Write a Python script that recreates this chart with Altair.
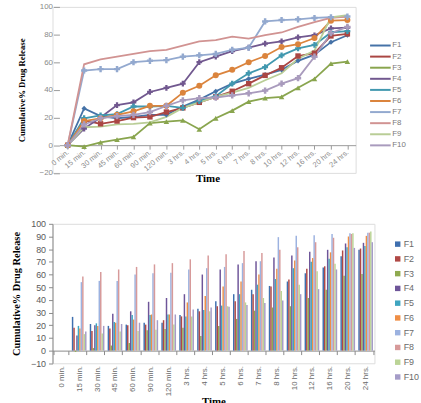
import altair as alt
import pandas as pd

# Sampling times (categorical axis)
times = ["0 min.", "15 min.", "30 min.", "45 min.", "60 min.", "90 min.", "120 min.",
         "3 hrs.", "4 hrs.", "5 hrs.", "6 hrs.", "7 hrs.", "8 hrs.", "10 hrs.",
         "12 hrs.", "16 hrs.", "20 hrs.", "24 hrs."]

series = ["F1", "F2", "F3", "F4", "F5", "F6", "F7", "F8", "F9", "F10"]

# Cumulative % drug release for each formulation
f1 = [0, 26.6, 21, 19.5, 20.5, 22, 22, 28, 33, 39, 44.5, 48, 51, 54.5, 61, 65.5, 74.5, 79.5]
f2 = [0, 18, 15.5, 17.5, 20, 20.5, 24, 27, 31, 35, 39, 44.5, 50.5, 56, 64.5, 66.5, 79, 80.5]
f3 = [0, -1, 2, 4, 6, 16, 17, 18, 11.5, 19.5, 25, 31.5, 34, 35, 41.5, 48, 59, 60.5]
f4 = [0, 12, 20, 29, 31, 38.5, 41.5, 44.5, 60, 64, 68, 70.5, 73.5, 75, 78, 79.5, 84.5, 85]
f5 = [0, 19.5, 21.5, 22.5, 28, 28, 28.5, 27, 32, 35.5, 44.5, 52, 56.5, 65, 70, 72.5, 81.5, 82.5]
f6 = [0, 17.5, 19.5, 22, 24.5, 28.5, 28.5, 38, 43, 50.5, 54.5, 60, 64.5, 71, 73, 77.5, 90, 90.5]
f7 = [0, 54, 55, 55, 60, 61, 61.5, 64, 65, 66, 69, 70.5, 89.5, 90.5, 91, 92, 92.5, 93]
f8 = [0, 58.5, 62, 64, 66, 68, 69, 72, 75, 76, 78.5, 77, 79.5, 81.5, 85.5, 89, 92, 93]
f9 = [0, 13, 13.5, 15, 15.5, 16.5, 20.5, 27, 31, 35, 38, 41.5, 47, 52, 62.5, 68.5, 92.5, 94]
f10 = [0, 15, 19.5, 21, 22, 24, 28.5, 32.5, 34, 34.5, 36, 37.5, 39.5, 44.5, 48.5, 64, 81, 85.5]

values = [f1, f2, f3, f4, f5, f6, f7, f8, f9, f10]

rows = [
    {"Time": t, "Formulation": s, "Release": v}
    for s, vals in zip(series, values)
    for t, v in zip(times, vals)
]
df = pd.DataFrame(rows)

line_colors = ["#4572A7", "#AA4643", "#89A54E", "#71588F", "#4198AF",
               "#DB843D", "#93A9CF", "#D19392", "#B9CD96", "#A99BBD"]
bar_colors = ["#3F6FAF", "#B04845", "#8FAA4F", "#6E5599", "#3FA5C0",
              "#EF8E45", "#9CB2E0", "#D79A9A", "#BBD496", "#A59CC8"]

marked = ["F1", "F2", "F3", "F4", "F5", "F6", "F7", "F10"]
marker_shapes = ["diamond", "square", "triangle-up", "cross", "cross", "circle", "cross", "cross"]
marker_sizes = [28, 40, 30, 22, 22, 32, 20, 22]
marker_angles = [0, 0, 0, 45, 45, 0, 0, 45]

serif = "Liberation Serif"
sans = "Liberation Sans"

# ---- line chart ----
x_top = alt.X(
    "Time:N", sort=times,
    scale=alt.Scale(type="point", padding=0.5, range=[7, 306]),
    axis=alt.Axis(
        title="Time", titleFont=serif, titleFontWeight="bold", titleFontSize=11,
        titleColor="black", titlePadding=1,
        labelAngle=-40, labelAlign="right", labelBaseline="middle",
        labelFont=sans, labelFontSize=7.5, labelColor="#8a8a8a", labelPadding=2,
        offset=-28, domainColor="#9a9a9a", tickColor="#9a9a9a", tickSize=4,
    ),
)
y_top = alt.Y(
    "Release:Q",
    scale=alt.Scale(domain=[-20, 100], nice=False),
    axis=alt.Axis(
        values=list(range(-20, 101, 20)), grid=False, domain=False,
        title="Cumulative% Drug Release", titleFont=serif, titleFontWeight="bold",
        titleFontSize=8.8, titleColor="black", titlePadding=13,
        labelFont=sans, labelFontSize=8, labelColor="#8a8a8a",
        offset=-7, tickSize=6, tickColor="#9a9a9a", labelPadding=1,
    ),
)

color_top = alt.Color(
    "Formulation:N", sort=series,
    scale=alt.Scale(domain=series, range=line_colors),
    legend=alt.Legend(
        title=None, orient="none", legendX=326, legendY=34,
        symbolType="M-2.6,0H2.6", symbolSize=64, symbolStrokeWidth=2,
        labelFont=sans, labelFontSize=8, labelColor="#7a7a7a",
        rowPadding=2.2, labelOffset=7,
    ),
)

lines = alt.Chart(df).mark_line(strokeWidth=1.8).encode(
    x=x_top, y=y_top, color=color_top,
)

points = alt.Chart(df).transform_filter(
    alt.FieldOneOfPredicate(field="Formulation", oneOf=marked)
).mark_point(filled=True, opacity=1).encode(
    x=x_top, y=y_top,
    color=alt.Color("Formulation:N", scale=alt.Scale(domain=series, range=line_colors), legend=None),
    shape=alt.Shape("Formulation:N", scale=alt.Scale(domain=marked, range=marker_shapes), legend=None),
    size=alt.Size("Formulation:N", scale=alt.Scale(domain=marked, range=marker_sizes), legend=None),
    angle=alt.Angle("Formulation:N", scale=alt.Scale(domain=marked, range=marker_angles), legend=None),
)

top = alt.layer(lines, points).properties(width=306, height=167.6)

# ---- grouped bar chart ----
bottom = alt.Chart(df).mark_bar().encode(
    x=alt.X(
        "Time:N", sort=times,
        scale=alt.Scale(type="band", paddingInner=0.18, paddingOuter=0.08),
        axis=alt.Axis(
            title="Time", titleFont=serif, titleFontWeight="bold", titleFontSize=11,
            titleColor="black", titlePadding=0,
            labelAngle=-90, labelAlign="right", labelBaseline="middle",
            labelFont=sans, labelFontSize=8, labelColor="#6a6a6a",
            labelPadding=11, offset=-12.8, tickBand="extent",
            domainColor="#8a8a8a", tickColor="#8a8a8a", tickSize=4,
        ),
    ),
    xOffset=alt.XOffset("Formulation:N", sort=series, scale=alt.Scale(paddingInner=0)),
    y=alt.Y(
        "Release:Q",
        scale=alt.Scale(domain=[-10, 100], nice=False),
        axis=alt.Axis(
            values=list(range(-10, 101, 10)), grid=False,
            title="Cumulative% Drug Release", titleFont=serif, titleFontWeight="bold",
            titleFontSize=10.5, titleColor="black", titlePadding=9,
            labelFont=sans, labelFontSize=9, labelColor="#5a5a5a",
            domainColor="#8a8a8a", tickColor="#8a8a8a", tickSize=4, labelPadding=3,
        ),
    ),
    color=alt.Color(
        "Formulation:N", sort=series,
        scale=alt.Scale(domain=series, range=bar_colors),
        legend=alt.Legend(
            title=None, orient="none", legendX=344, legendY=16,
            symbolType="square", symbolSize=30, symbolStrokeWidth=0,
            labelFont=sans, labelFontSize=9, labelColor="#6a6a6a",
            rowPadding=4.9, labelOffset=1.5,
        ),
    ),
).properties(width=325, height=140.8)

chart = alt.vconcat(top, bottom, spacing=51, bounds="flush").resolve_scale(
    x="independent", y="independent", color="independent",
).resolve_legend(color="independent").properties(
    padding={"left": 11, "top": 0, "right": 0, "bottom": 0}
).configure_view(stroke=None).configure(background="white")

chart.save("out.html", embed_options={"renderer": "svg", "actions": False})
